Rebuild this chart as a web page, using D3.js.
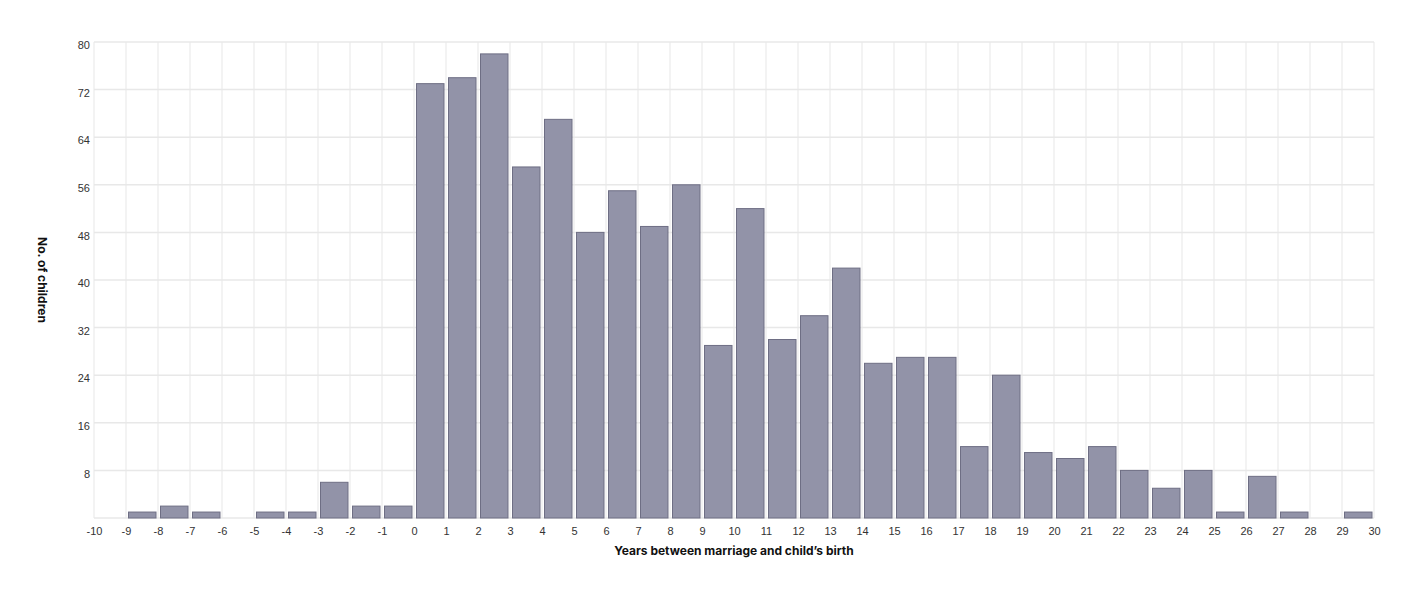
<!DOCTYPE html>
<html lang="en">
<head>
    <meta charset="UTF-8">
    <title>Years between marriage and child's birth</title>
    <script src="https://d3js.org/d3.v7.min.js"></script>
    <style>
        body {
            margin: 0;
            background: #fff;
            font-family: Inter, "Noto Sans", Arial, sans-serif;
        }
        svg {
            display: block;
        }
        .tick text {
            fill: #333;
            font-size: 11px;
        }
        .axis-title {
            font-size: 12px;
            font-weight: bold;
            fill: #111;
        }
    </style>
</head>
<body>
    <svg id="chart" width="1414" height="594"></svg>

    <script>
        // bins: [year, year + 1)
        const years = [-9, -8, -7, -6, -5, -4, -3, -2, -1, 0, 1, 2, 3, 4, 5, 6, 7, 8, 9,
            10, 11, 12, 13, 14, 15, 16, 17, 18, 19, 20, 21, 22, 23, 24, 25, 26, 27, 28, 29];
        const children = [1, 2, 1, 0, 1, 1, 6, 2, 2, 73, 74, 78, 59, 67, 48, 55, 49, 56, 29,
            52, 30, 34, 42, 26, 27, 27, 12, 24, 11, 10, 12, 8, 5, 8, 1, 7, 1, 0, 1];
        const xTicks = d3.range(-10, 31);
        const yTicks = [8, 16, 24, 32, 40, 48, 56, 64, 72, 80];

        const svg = d3.select("#chart");
        const margin = { top: 42, right: 40, bottom: 76, left: 94 };
        const width = +svg.attr("width") - margin.left - margin.right;
        const height = +svg.attr("height") - margin.top - margin.bottom;

        const g = svg.append("g")
            .attr("transform", `translate(${margin.left},${margin.top})`);

        const x = d3.scaleLinear().domain([-10, 30]).range([0, width]);
        const y = d3.scaleLinear().domain([0, 80]).range([height, 0]);

        // grid
        g.append("g")
            .selectAll("line")
            .data(xTicks)
            .join("line")
            .attr("x1", d => x(d))
            .attr("x2", d => x(d))
            .attr("y1", 0)
            .attr("y2", height)
            .attr("stroke", "#efefef")
            .attr("stroke-width", 1.5);

        g.append("g")
            .selectAll("line")
            .data([0].concat(yTicks))
            .join("line")
            .attr("x1", 0)
            .attr("x2", width)
            .attr("y1", d => y(d))
            .attr("y2", d => y(d))
            .attr("stroke", "#e8e8e8")
            .attr("stroke-width", 1.5);

        // bars
        const data = years.map((d, i) => ({ year: d, count: children[i] }));
        g.selectAll("rect.bar")
            .data(data.filter(d => d.count > 0))
            .join("rect")
            .attr("class", "bar")
            .attr("x", d => x(d.year) + 2.5)
            .attr("y", d => y(d.count))
            .attr("width", d => x(d.year + 1) - x(d.year) - 4.5)
            .attr("height", d => height - y(d.count))
            .attr("fill", "#9293a8")
            .attr("stroke", "#6e6e84")
            .attr("stroke-width", 1);

        // axes
        const xAxis = g.append("g")
            .attr("transform", `translate(0,${height})`)
            .call(d3.axisBottom(x).tickValues(xTicks).tickFormat(d => String(d)).tickSize(0).tickPadding(9));
        xAxis.select(".domain").remove();

        const yAxis = g.append("g")
            .call(d3.axisLeft(y).tickValues(yTicks).tickFormat(d => String(d)).tickSize(0).tickPadding(4));
        yAxis.select(".domain").remove();
        yAxis.selectAll(".tick text").attr("dy", "0.6em");

        svg.append("text")
            .attr("class", "axis-title")
            .attr("x", margin.left + width / 2)
            .attr("y", 555)
            .attr("text-anchor", "middle")
            .text("Years between marriage and child’s birth");

        svg.append("text")
            .attr("class", "axis-title")
            .attr("transform", `translate(38,${margin.top + height / 2}) rotate(90)`)
            .attr("text-anchor", "middle")
            .text("No. of children");
    </script>
</body>
</html>
